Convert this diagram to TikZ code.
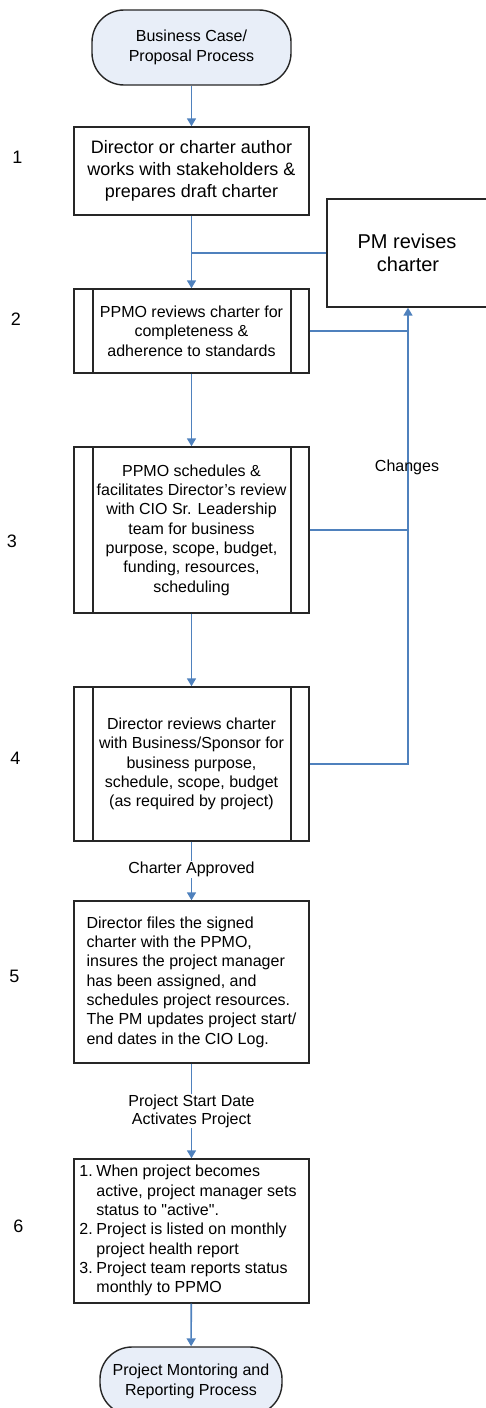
\documentclass[tikz,border=0pt]{standalone}
\usepackage{fontspec}
\setmainfont{Liberation Sans}
\usetikzlibrary{arrows.meta}
\definecolor{conn}{HTML}{4F81BD}
\definecolor{termfill}{HTML}{E8EEF8}
\tikzset{
  boxline/.style={draw=black!85, line width=1.4pt},
  procbox/.style={boxline, rectangle, minimum width=235pt, inner sep=0pt, align=center,
     font=\fontsize{16}{19.3}\selectfont},
  predef/.style={procbox, path picture={
     \draw[boxline] ([xshift=19pt]path picture bounding box.north west) -- ([xshift=19pt]path picture bounding box.south west)
     ([xshift=-18pt]path picture bounding box.north east) -- ([xshift=-18pt]path picture bounding box.south east);}},
  termbox/.style={boxline, fill=termfill, rounded corners=32pt, inner sep=0pt, align=center,
     font=\fontsize{16}{20}\selectfont},
  stepnum/.style={font=\fontsize{18}{20}\selectfont},
  conline/.style={draw=conn, line width=1.6pt},
  conarrow/.style={conline, -{Triangle[width=9pt,length=8pt]}},
  lbl/.style={font=\fontsize{16}{18}\selectfont, align=center, inner sep=1pt},
}
\begin{document}
\begin{tikzpicture}[x=1pt,y=-1pt]
\useasboundingbox (0,0) rectangle (486,1408);

\node[termbox, minimum width=199pt, minimum height=75pt] (start) at (191.5,47.5) {Business Case/\\Proposal Process};

\node[procbox, minimum height=88pt, font=\fontsize{18}{21.7}\selectfont] (b1) at (191.5,171) {Director or charter author\\works with stakeholders \&\\prepares draft charter};

\node[predef, minimum height=84pt] (b2) at (191.5,331) {PPMO reviews charter for\\completeness \&\\adherence to standards};

\node[predef, minimum height=166pt] (b3) at (191.5,530) {PPMO schedules \&\\facilitates Director's review\\with CIO Sr. Leadership\\team for business\\purpose, scope, budget,\\funding, resources,\\scheduling};

\node[predef, minimum height=154pt] (b4) at (191.5,764) {Director reviews charter\\with Business/Sponsor for\\business purpose,\\schedule, scope, budget\\(as required by project)};

\node[procbox, minimum height=162pt, align=left] (b5) at (191.5,982) {Director files the signed\\charter with the PPMO,\\insures the project manager\\has been assigned, and\\schedules project resources.\\The PM updates project start/\\end dates in the CIO Log.};

\node[procbox, minimum height=144pt] (b6) at (191.5,1231) {\hspace*{-7pt}\begin{tabular}{@{}l@{\hspace{3.7pt}}l@{}}
1.&When project becomes\\
  &active, project manager sets\\
  &status to \textquotedbl active\textquotedbl.\\
2.&Project is listed on monthly\\
  &project health report\\
3.&Project team reports status\\
  &monthly to PPMO
\end{tabular}};

\node[termbox, minimum width=182pt, minimum height=68pt] (end) at (191,1381) {Project Montoring and\\Reporting Process};

\node[boxline, rectangle, minimum width=162pt, minimum height=108pt, inner sep=0pt, align=center,
      font=\fontsize{20}{23}\selectfont] (pm) at (408,253) {\hspace*{-2pt}PM revises\\charter};

% step numbers
\node[stepnum] (s1) at (17.5,157) {1};
\node[stepnum] (s2) at (16,319) {2};
\node[stepnum] (s3) at (12,541) {3};
\node[stepnum] (s4) at (15.5,758) {4};
\node[stepnum] (s5) at (14.5,976) {5};
\node[stepnum] (s6) at (18.5,1226) {6};

% main flow
\draw[conarrow] (start) -- (b1);
\draw[conarrow] (b1) -- (b2);
\draw[conline] (pm.west) -- (pm.west -| b1.south);
\draw[conarrow] (b2) -- (b3);
\draw[conarrow] (b3) -- (b4);
\draw[conarrow] (b4) -- node[lbl, fill=white, pos=0.47] (ca) {Charter Approved} (b5);
\draw[conarrow] (b5) -- node[lbl, fill=white, pos=0.5] (sd) {Project Start Date\\Activates Project} (b6);
\draw[conarrow] (b6) -- (end);

% changes loop
\draw[conarrow] (b4.east) -| (pm.south);
\draw[conline] (b3.east) -- (b3.east -| pm.south);
\draw[conline] (b2.east) -- (b2.east -| pm.south);
\node[lbl] (chg) at (407,467) {Changes};
\end{tikzpicture}
\end{document}
